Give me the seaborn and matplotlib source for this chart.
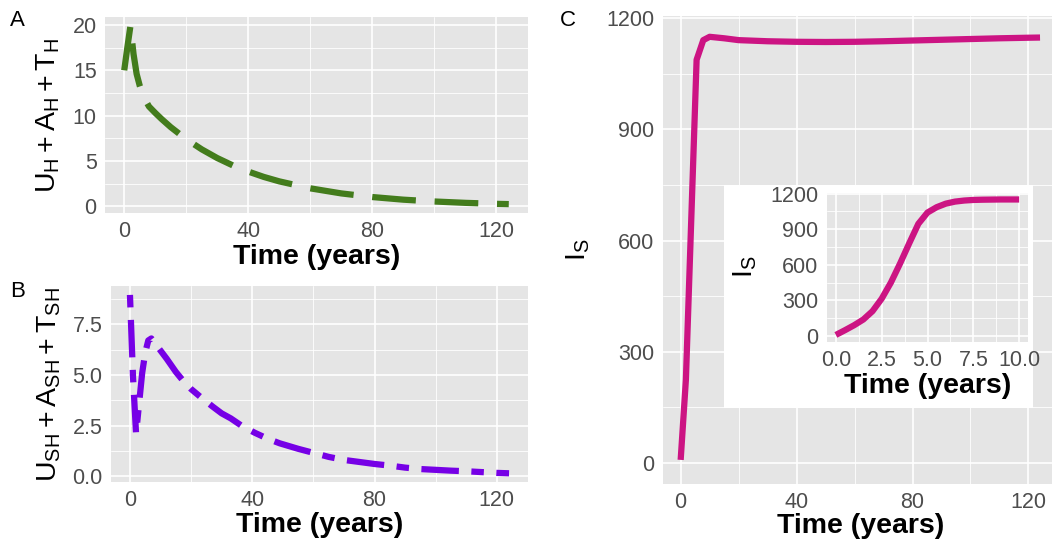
import matplotlib
matplotlib.use("Agg")
import matplotlib.pyplot as plt
from matplotlib.ticker import MultipleLocator
import seaborn as sns

# ---------------- data ----------------
time_A = [0, 1, 2, 3, 4, 5, 6, 7, 8, 10, 12, 15, 20, 25, 30, 35, 40, 45, 50,
          60, 70, 80, 90, 100, 110, 120, 124]
hosts_A = [15.0, 17.5, 19.9, 16.8, 14.6, 13.3, 12.3, 11.6, 11.0, 10.3, 9.64,
           8.73, 7.40, 6.28, 5.32, 4.51, 3.83, 3.24, 2.75, 1.98, 1.42, 1.02,
           0.73, 0.53, 0.38, 0.27, 0.24]

time_B = [0, 1, 2, 3, 4, 5, 6, 7, 8, 10, 12, 15, 17, 20, 23, 27, 30, 33, 37,
          41, 45, 49, 55, 60, 65, 70, 75, 80, 85, 90, 95, 100, 105, 110, 115,
          120, 124]
hosts_B = [8.95, 4.9, 2.1, 3.6, 5.1, 6.1, 6.7, 6.8, 6.6, 6.2, 5.8, 5.15, 4.78,
           4.3, 3.92, 3.44, 3.1, 2.85, 2.44, 2.13, 1.85, 1.62, 1.35, 1.15,
           0.95, 0.80, 0.70, 0.60, 0.52, 0.42, 0.35, 0.31, 0.27, 0.24, 0.20,
           0.16, 0.14]

time_C = [0, 1.8, 5.5, 7.8, 10, 15, 20, 30, 40, 50, 60, 70, 80, 90, 100, 110,
          120, 124]
snails_C = [8, 224, 1088, 1141, 1150, 1146, 1141, 1138, 1136.5, 1136, 1136.5,
            1138, 1140, 1142, 1144, 1146, 1147.5, 1148]

time_inset = [0, 0.5, 1, 1.5, 2, 2.5, 3, 3.5, 4, 4.5, 5, 5.5, 6, 6.5, 7, 7.5,
              8, 8.5, 9, 9.5, 10]
snails_inset = [10, 50, 92, 140, 210, 315, 450, 610, 780, 945, 1040, 1085,
                1115, 1132, 1141, 1146, 1148, 1149, 1150, 1150, 1150]

ticks_A_y = [0, 5, 10, 15, 20]
ticks_B_y = [0.0, 2.5, 5.0, 7.5]
ticks_C_y = [0, 300, 600, 900, 1200]
ticks_t = [0, 40, 80, 120]
ticks_inset_x = [0.0, 2.5, 5.0, 7.5, 10.0]

# ---------------- style ----------------
sns.set_theme(style="darkgrid")
plt.rcParams["font.family"] = ["Liberation Sans", "DejaVu Sans"]
plt.rcParams["mathtext.fontset"] = "custom"
plt.rcParams["mathtext.rm"] = "Liberation Sans"
plt.rcParams["mathtext.it"] = "Liberation Sans"
plt.rcParams["text.color"] = "black"
plt.rcParams["axes.labelcolor"] = "black"

PANEL = "#E5E5E5"
TICKC = "#4D4D4D"
W, H = 1052, 542

fig = plt.figure(figsize=(W / 100, H / 100), dpi=100)
fig.patch.set_facecolor("white")


def px_axes(left, top, right, bottom):
    return fig.add_axes([left / W, 1 - bottom / H, (right - left) / W, (bottom - top) / H])


def style(ax, xmaj, xmin, ymaj, ymin, xlim, ylim, xfmt=None, yfmt=None):
    ax.set_facecolor(PANEL)
    for s in ax.spines.values():
        s.set_visible(False)
    ax.set_xlim(*xlim)
    ax.set_ylim(*ylim)
    ax.set_xticks(xmaj)
    ax.set_yticks(ymaj)
    ax.xaxis.set_minor_locator(MultipleLocator(xmin))
    ax.yaxis.set_minor_locator(MultipleLocator(ymin))
    if xfmt:
        ax.set_xticklabels([xfmt.format(v) for v in xmaj])
    if yfmt:
        ax.set_yticklabels([yfmt.format(v) for v in ymaj])
    ax.grid(which="major", color="white", lw=1.2)
    ax.grid(which="minor", color="white", lw=0.6)
    ax.tick_params(which="major", length=4, width=1.1, color="#333333",
                   labelsize=15.5, labelcolor=TICKC, pad=2)
    ax.tick_params(which="minor", length=0)
    ax.set_axisbelow(True)


LW = 4.5
GREEN = "#437C1C"
PURPLE = "#7600E6"
MAGENTA = "#CC1483"
XT = dict(fontsize=20.5, fontweight="bold", va="center", color="black")
YT = dict(fontsize=20.5, va="center", color="black")

# ---------- Panel A ----------
axA = px_axes(105, 17, 528, 213)
sns.lineplot(x=time_A, y=hosts_A, ax=axA, color=GREEN, lw=LW, errorbar=None,
             linestyle=(0, (7, 3)), dash_capstyle="butt")
style(axA, ticks_t, 20, ticks_A_y, 2.5, (-6.2, 130.2), (-0.74, 20.88))
axA.set_xlabel("Time (years)", **XT)
axA.xaxis.set_label_coords(0.5, -0.222)
axA.set_ylabel(r"$\mathregular{U_H+A_H+T_H}$", **YT)
axA.yaxis.set_label_coords(-0.135, 0.5)

# ---------- Panel B ----------
axB = px_axes(111, 286, 528, 482)
sns.lineplot(x=time_B, y=hosts_B, ax=axB, color=PURPLE, lw=LW, errorbar=None,
             linestyle=(0, (2, 2, 6, 2)), dash_capstyle="butt")
style(axB, ticks_t, 20, ticks_B_y, 1.25, (-6.2, 130.2), (-0.29, 9.39), yfmt="{:.1f}")
axB.set_xlabel("Time (years)", **XT)
axB.xaxis.set_label_coords(0.5, -0.22)
axB.set_ylabel(r"$\mathregular{U_{SH}+A_{SH}+T_{SH}}$", **YT)
axB.yaxis.set_label_coords(-0.148, 0.5)

# ---------- Panel C ----------
axC = px_axes(662.7, 15.5, 1058, 484)
sns.lineplot(x=time_C, y=snails_C, ax=axC, color=MAGENTA, lw=LW, errorbar=None,
             solid_capstyle="butt")
style(axC, ticks_t, 20, ticks_C_y, 150, (-6.2, 130.2), (-57.1, 1207.5))
axC.set_xlabel("Time (years)", **XT)
axC.xaxis.set_label_coords(0.5, -0.09)
axC.set_ylabel(r"$\mathregular{I_S}$", **YT)
axC.yaxis.set_label_coords(-0.214, 0.5)

# ---------- Inset ----------
bg = px_axes(724, 185, 1033, 408)
bg.set_facecolor("white")
bg.grid(False)
bg.set_xticks([])
bg.set_yticks([])
for s in bg.spines.values():
    s.set_visible(False)

axI = px_axes(826.7, 192.7, 1028.3, 341.7)
sns.lineplot(x=time_inset, y=snails_inset, ax=axI, color=MAGENTA, lw=LW,
             errorbar=None, solid_capstyle="butt")
style(axI, ticks_inset_x, 1.25, ticks_C_y, 150, (-0.5, 10.5), (-47, 1207),
      xfmt="{:.1f}")
axI.set_xlabel("Time (years)", **XT)
axI.xaxis.set_label_coords(0.5, -0.3)
axI.set_ylabel(r"$\mathregular{I_S}$", **YT)
axI.yaxis.set_label_coords(-0.405, 0.5)

# ---------- panel tags ----------
fig.text(10 / W, 1 - 10 / H, "A", fontsize=16, va="top", ha="left")
fig.text(10 / W, 1 - 281 / H, "B", fontsize=16, va="top", ha="left")
fig.text(560 / W, 1 - 10 / H, "C", fontsize=16, va="top", ha="left")

fig.savefig("out.png", dpi=100, facecolor="white")
